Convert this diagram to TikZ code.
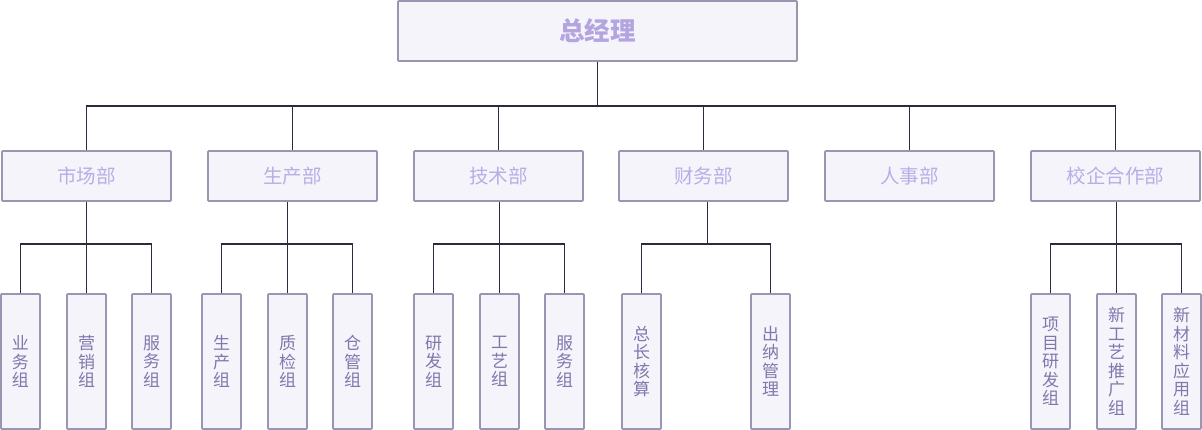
\documentclass[tikz,border=0pt]{standalone}
\usepackage{fontspec}
\setmainfont{Noto Sans CJK SC}
\usetikzlibrary{calc}
\definecolor{boxfill}{HTML}{F5F4FB}
\definecolor{boxline}{HTML}{9C95B2}
\definecolor{linkcol}{HTML}{2D2A40}
\definecolor{toptext}{HTML}{B4A5E0}
\definecolor{midtext}{HTML}{BAADE6}
\definecolor{lowtext}{HTML}{8077AC}
\begin{document}
\begin{tikzpicture}[x=1pt,y=-1pt,
  basebox/.style={draw=boxline, fill=boxfill, line width=1.7pt, inner sep=0pt, rounded corners=0.8pt},
  topbox/.style={basebox, minimum width=399pt, minimum height=60pt, text=toptext, font=\fontsize{25.5}{28}\selectfont\bfseries},
  deptbox/.style={basebox, minimum width=169pt, minimum height=50pt, text=midtext, font=\fontsize{19.5}{22}\selectfont},
  groupbox/.style={basebox, minimum width=39pt, minimum height=135pt, text=lowtext, align=center, font=\fontsize{17}{18.5}\selectfont},
  link/.style={draw=linkcol, line width=1.5pt}]
\useasboundingbox (0,0) rectangle (1202,430);
% top
\node[topbox] (gm) at (597.5,31) {总经理};
% departments
\node[deptbox] (d1) at (86.5,176) {市场部};
\node[deptbox] (d2) at (292.5,176) {生产部};
\node[deptbox] (d3) at (498.5,176) {技术部};
\node[deptbox] (d4) at (703.5,176) {财务部};
\node[deptbox] (d5) at (909.5,176) {人事部};
\node[deptbox] (d6) at (1115.5,176) {校企合作部};
% groups
\node[groupbox] (g11) at (20.5,361.5) {业\\务\\组};
\node[groupbox] (g12) at (86.5,361.5) {营\\销\\组};
\node[groupbox] (g13) at (151.5,361.5) {服\\务\\组};
\node[groupbox] (g21) at (221.5,361.5) {生\\产\\组};
\node[groupbox] (g22) at (287.5,361.5) {质\\检\\组};
\node[groupbox] (g23) at (352.5,361.5) {仓\\管\\组};
\node[groupbox] (g31) at (433.5,361.5) {研\\发\\组};
\node[groupbox] (g32) at (499.5,361.5) {工\\艺\\组};
\node[groupbox] (g33) at (564.5,361.5) {服\\务\\组};
\node[groupbox] (g41) at (641.5,361.5) {总\\长\\核\\算};
\node[groupbox] (g42) at (770.5,361.5) {出\\纳\\管\\理};
\node[groupbox] (g61) at (1050.5,361.5) {项\\目\\研\\发\\组};
\node[groupbox] (g62) at (1116.5,361.5) {新\\工\\艺\\推\\广\\组};
\node[groupbox] (g63) at (1181.5,361.5) {新\\材\\料\\应\\用\\组};
% top-level links
\foreach \d in {d1,d2,d3,d4,d5,d6}
  \draw[link] (gm.south) -- ++(0,44) -| (\d.north);
% department to groups
\foreach \a/\b/\c/\m in {d1/g11/g13/g12, d2/g21/g23/g22, d3/g31/g33/g32, d6/g61/g63/g62}{
  \draw[link] (\b.north) -- ++(0,-49) -| (\c.north);
  \draw[link] (\m.north |- \a.south) -- (\m.north);
}
\draw[link] (g41.north) -- ++(0,-49) coordinate (bar4) -| (g42.north);
\coordinate (fmid) at ($(g41.north)!0.5!(g42.north)+(1.5,0)$);
\draw[link] (fmid |- d4.south) -- (fmid |- bar4);
\end{tikzpicture}
\end{document}
